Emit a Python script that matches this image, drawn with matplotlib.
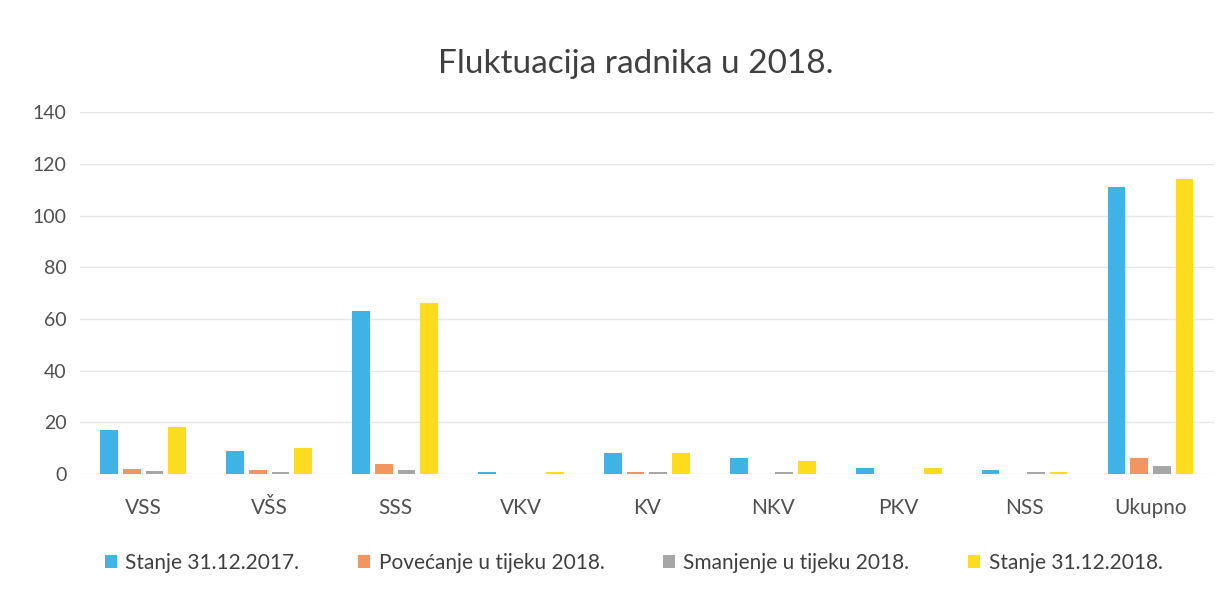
import numpy as np
import matplotlib.pyplot as plt

plt.rcParams['font.family'] = ['Lato', 'DejaVu Sans']

categories = ['VSS', 'VŠS', 'SSS', 'VKV', 'KV', 'NKV', 'PKV', 'NSS', 'Ukupno']
series_names = ['Stanje 31.12.2017.', 'Povećanje u tijeku 2018.',
                'Smanjenje u tijeku 2018.', 'Stanje 31.12.2018.']
stanje_2017 = [17, 9, 63, 0.6, 8, 6, 2.5, 1.5, 111]
povecanje = [2, 1.5, 4, 0, 0.7, 0, 0, 0, 6]
smanjenje = [1, 0.7, 1.5, 0, 0.7, 0.7, 0, 0.6, 3]
stanje_2018 = [18, 10, 66, 0.6, 8, 5, 2.5, 0.6, 114]
yticks = [0, 20, 40, 60, 80, 100, 120, 140]

colors = ['#3FB2E6', '#F29560', '#A6A6A6', '#FDDB1E']
values = [stanje_2017, povecanje, smanjenje, stanje_2018]

fig = plt.figure(figsize=(12.16, 6.0), dpi=100)
ax = fig.add_axes([0.066, 0.21, 0.932, 0.603])

x = np.arange(len(categories))
width = 0.14
offsets = [-0.27, -0.09, 0.09, 0.27]
for vals, off, col, name in zip(values, offsets, colors, series_names):
    ax.bar(x + off, vals, width, color=col, label=name, zorder=3)

ax.set_ylim(0, 140)
ax.set_xlim(-0.5, len(categories) - 0.5)
ax.set_yticks(yticks)
ax.set_xticks(x)
ax.set_xticklabels(categories)
ax.grid(axis='y', color='#E6E6E6', linewidth=1, zorder=0)
for s in ax.spines.values():
    s.set_visible(False)
ax.tick_params(axis='x', length=0, labelsize=15, colors='#505050', pad=17)
ax.tick_params(axis='y', length=0, labelsize=14, colors='#505050', pad=10)

fig.text(0.523, 0.893, 'Fluktuacija radnika u 2018.', ha='center', va='center',
         fontsize=24, color='#404040')

fig.legend(loc='center', bbox_to_anchor=(0.521, 0.062), ncol=4, frameon=False,
           fontsize=15, handlelength=0.6, handleheight=0.6, columnspacing=2.8,
           handletextpad=0.4, labelcolor='#404040')

fig.savefig('out.png', dpi=100, facecolor='white')
